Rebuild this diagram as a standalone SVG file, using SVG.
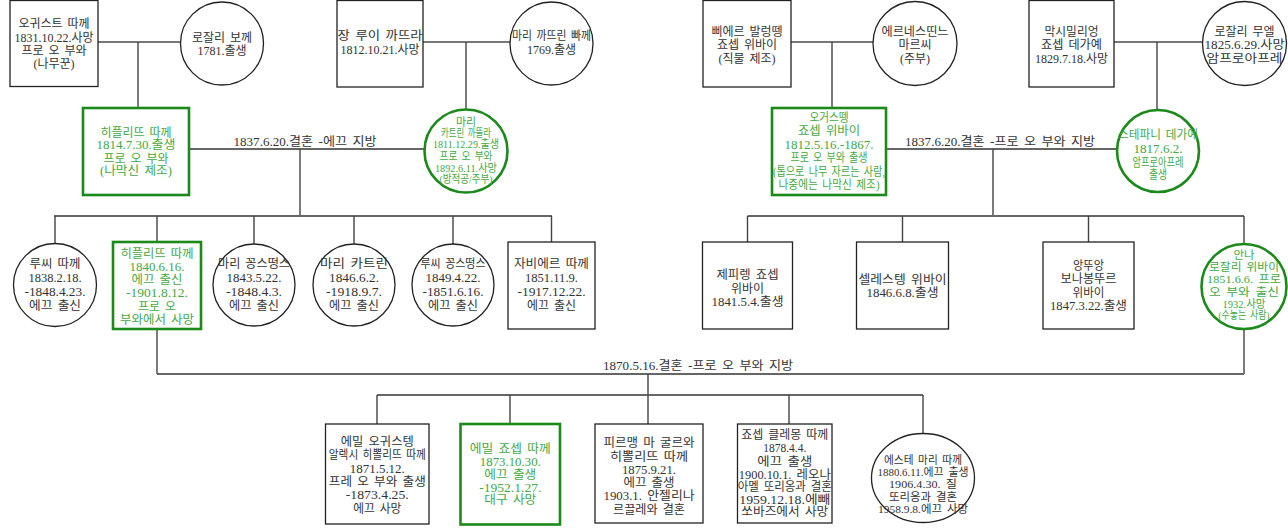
<svg xmlns="http://www.w3.org/2000/svg" width="1288" height="528" viewBox="0 0 1288 528">
<style>
.bg{fill:#fff}
.b{fill:#fff;stroke:#222;stroke-width:1.3}
.gb{fill:#fff;stroke:#1b8a1b;stroke-width:2.6}
.t{font-family:'Liberation Serif','Noto Sans CJK KR',sans-serif;font-size:12px;fill:#333;text-anchor:middle;word-spacing:2px}
.g{fill:#45a845}
.s{font-size:11px}
.c{stroke:#444;stroke-width:1.4;fill:none}
.sp{stroke:#777;stroke-width:2;fill:none}
.bar{stroke:#666;stroke-width:1.8;fill:none}
</style>
<rect class="bg" x="0" y="0" width="1288" height="528"/>
<g id="connectors">
<path class="sp" d="M98 42H180M423 42H510M791 42H873M1114 42H1202"/>
<path class="c" d="M138 42V108M466 42V109.5M832 42V108M1157 42V110"/>
<path class="bar" d="M189 149H424.5M886 149H1117"/>
<path class="c" d="M300 149V216M993 149V216"/>
<path class="bar" d="M54 216H552M747.5 216H1244"/>
<path class="c" d="M55 216V243M157 216V242M254 216V244M354 216V244M453 216V244M551.5 216V242M747.5 216V242M902.5 216V242M1088.5 216V242M1244 216V243.5"/>
<path class="c" d="M157 329V374M1244 329.5V374"/>
<path class="bar" d="M157 374H1244"/>
<path class="c" d="M648 374V395"/>
<path class="bar" d="M377 395H923"/>
<path class="c" d="M377 395V424M510 395V424M648 395V424M789 395V424M923 395V433.5"/>
<text class="t" x="305" y="146" textLength="143" lengthAdjust="spacingAndGlyphs">1837.6.20.결혼 -에끄 지방</text>
<text class="t" x="1000" y="146" textLength="190" lengthAdjust="spacingAndGlyphs">1837.6.20.결혼 -프로 오 부와 지방</text>
<text class="t" x="698" y="370" textLength="190" lengthAdjust="spacingAndGlyphs">1870.5.16.결혼 -프로 오 부와 지방</text>
</g>
<g id="n-auguste">
<rect class="b" x="10" y="0.5" width="88" height="86"/>
<text class="t" x="54" y="28.3">오귀스트 따께</text>
<text class="t" x="54" y="41.6">1831.10.22.사망</text>
<text class="t" x="54" y="55">프로 오 부와</text>
<text class="t" x="54" y="68.3">(나무꾼)</text>
</g>
<g id="n-rosalie-bocquet">
<circle class="b" cx="222" cy="43.5" r="41.5"/>
<text class="t" x="222" y="41.6">로잘리 보께</text>
<text class="t" x="222" y="55">1781.출생</text>
</g>
<g id="n-jean-louis">
<rect class="b" x="337" y="0.5" width="86" height="86.5"/>
<text class="t" x="380" y="39.6" textLength="85" lengthAdjust="spacingAndGlyphs">장 루이 까뜨라</text>
<text class="t" x="380" y="54.3">1812.10.21.사망</text>
</g>
<g id="n-marie-catherine-p">
<circle class="b" cx="551.5" cy="43.5" r="41.5"/>
<text class="t" x="551.5" y="39.6" textLength="79" lengthAdjust="spacingAndGlyphs">마리 까뜨린 빠께</text>
<text class="t" x="551.5" y="54.3">1769.출생</text>
</g>
<g id="n-pierre">
<rect class="b" x="703" y="0.5" width="88" height="86.5"/>
<text class="t" x="747" y="36">삐에르 발렁뗑</text>
<text class="t" x="747" y="49.3">죠셉 위바이</text>
<text class="t" x="747" y="62.6">(직물 제조)</text>
</g>
<g id="n-ernestine">
<circle class="b" cx="915" cy="43.5" r="42"/>
<text class="t" x="915" y="36" textLength="67" lengthAdjust="spacingAndGlyphs">에르네스띤느</text>
<text class="t" x="915" y="49.3">마르씨</text>
<text class="t" x="915" y="62.6">(주부)</text>
</g>
<g id="n-maximilien">
<rect class="b" x="1029" y="0.5" width="85" height="86.5"/>
<text class="t" x="1071.5" y="36" textLength="54" lengthAdjust="spacingAndGlyphs">막시밀리엉</text>
<text class="t" x="1071.5" y="49.3" textLength="61" lengthAdjust="spacingAndGlyphs">죠셉 데가예</text>
<text class="t" x="1071.5" y="62.6">1829.7.18.사망</text>
</g>
<g id="n-rosalie-muel">
<circle class="b" cx="1244.5" cy="43.5" r="42"/>
<text class="t" x="1244.5" y="36">로잘리 무엘</text>
<text class="t" x="1244.5" y="49.3" textLength="80" lengthAdjust="spacingAndGlyphs">1825.6.29.사망</text>
<text class="t" x="1244.5" y="62.6" textLength="76" lengthAdjust="spacingAndGlyphs">암프로아프레</text>
</g>
<g id="n-hippolyte">
<rect class="gb" x="83" y="108" width="106" height="87"/>
<text class="t g" x="136" y="136.6">히플리뜨 따께</text>
<text class="t g" x="136" y="149.3" textLength="79" lengthAdjust="spacingAndGlyphs">1814.7.30.출생</text>
<text class="t g" x="136" y="162.6">프로 오 부와</text>
<text class="t g" x="136" y="175.3" textLength="72" lengthAdjust="spacingAndGlyphs">(나막신 제조)</text>
</g>
<g id="n-marie-catherine-c">
<circle class="gb" cx="466" cy="151" r="41.5"/>
<text class="t g s" x="466" y="126.3">마리</text>
<text class="t g s" x="466" y="137" textLength="50" lengthAdjust="spacingAndGlyphs">카트린 까뜰라</text>
<text class="t g s" x="466" y="148.2" textLength="66" lengthAdjust="spacingAndGlyphs">1811.12.29.출생</text>
<text class="t g s" x="466" y="160.3" textLength="53" lengthAdjust="spacingAndGlyphs">프로 오 부와</text>
<text class="t g s" x="466" y="172" textLength="62" lengthAdjust="spacingAndGlyphs">1892.6.11.사망</text>
<text class="t g s" x="466" y="182.8" textLength="53" lengthAdjust="spacingAndGlyphs">(방적공/주부)</text>
</g>
<g id="n-augustin">
<rect class="gb" x="772" y="108" width="114" height="87"/>
<text class="t g" x="829" y="121.6" textLength="39" lengthAdjust="spacingAndGlyphs">오거스뗑</text>
<text class="t g" x="829" y="135.1" textLength="62" lengthAdjust="spacingAndGlyphs">죠셉 위바이</text>
<text class="t g" x="829" y="148.6" textLength="89" lengthAdjust="spacingAndGlyphs">1812.5.16.-1867.</text>
<text class="t g" x="829" y="162.1" textLength="77" lengthAdjust="spacingAndGlyphs">프로 오 부와 출생</text>
<text class="t g" x="829" y="175.6" textLength="112" lengthAdjust="spacingAndGlyphs">(톱으로 나무 자르는 사람,</text>
<text class="t g" x="829" y="189.1" textLength="101" lengthAdjust="spacingAndGlyphs">나중에는 나막신 제조)</text>
</g>
<g id="n-stephanie">
<circle class="gb" cx="1158" cy="151" r="41"/>
<text class="t g" x="1158" y="139" textLength="80" lengthAdjust="spacingAndGlyphs">스테파니 데가예</text>
<text class="t g" x="1158" y="153" textLength="49" lengthAdjust="spacingAndGlyphs">1817.6.2.</text>
<text class="t g" x="1158" y="166.5" textLength="51" lengthAdjust="spacingAndGlyphs">암프로아프레</text>
<text class="t g" x="1158" y="179" textLength="18" lengthAdjust="spacingAndGlyphs">출생</text>
</g>
<g id="n-lucie-t">
<circle class="b" cx="55" cy="285" r="41.5"/>
<text class="t" x="55" y="267.8" textLength="51" lengthAdjust="spacingAndGlyphs">루씨 따께</text>
<text class="t" x="55" y="281.7" textLength="53" lengthAdjust="spacingAndGlyphs">1838.2.18.</text>
<text class="t" x="55" y="295.6" textLength="61" lengthAdjust="spacingAndGlyphs">-1848.4.23.</text>
<text class="t" x="55" y="309.5" textLength="52" lengthAdjust="spacingAndGlyphs">에끄 출신</text>
</g>
<g id="n-hippolyte-jr">
<rect class="gb" x="113" y="242" width="88" height="87"/>
<text class="t g" x="157" y="257.6" textLength="73" lengthAdjust="spacingAndGlyphs">히플리뜨 따께</text>
<text class="t g" x="157" y="270.6" textLength="55" lengthAdjust="spacingAndGlyphs">1840.6.16.</text>
<text class="t g" x="157" y="284" textLength="51" lengthAdjust="spacingAndGlyphs">에끄 출신</text>
<text class="t g" x="157" y="297.2" textLength="62" lengthAdjust="spacingAndGlyphs">-1901.8.12.</text>
<text class="t g" x="157" y="310.5" textLength="38" lengthAdjust="spacingAndGlyphs">프로 오</text>
<text class="t g" x="157" y="323.6" textLength="74" lengthAdjust="spacingAndGlyphs">부와에서 사망</text>
</g>
<g id="n-marie-constance">
<circle class="b" cx="254" cy="285" r="41"/>
<text class="t" x="254" y="267.8" textLength="72" lengthAdjust="spacingAndGlyphs">마리 꽁스떵스</text>
<text class="t" x="254" y="281.7" textLength="55" lengthAdjust="spacingAndGlyphs">1843.5.22.</text>
<text class="t" x="254" y="295.6" textLength="56" lengthAdjust="spacingAndGlyphs">-1848.4.3.</text>
<text class="t" x="254" y="309.5" textLength="50" lengthAdjust="spacingAndGlyphs">에끄 출신</text>
</g>
<g id="n-marie-catherine-t">
<circle class="b" cx="354" cy="285" r="41"/>
<text class="t" x="354" y="267.8" textLength="68" lengthAdjust="spacingAndGlyphs">마리 카트린</text>
<text class="t" x="354" y="281.7" textLength="50" lengthAdjust="spacingAndGlyphs">1846.6.2.</text>
<text class="t" x="354" y="295.6" textLength="56" lengthAdjust="spacingAndGlyphs">-1918.9.7.</text>
<text class="t" x="354" y="309.5" textLength="50" lengthAdjust="spacingAndGlyphs">에끄 출신</text>
</g>
<g id="n-lucie-constance">
<circle class="b" cx="453" cy="285" r="41"/>
<text class="t" x="453" y="267.8" textLength="65" lengthAdjust="spacingAndGlyphs">루씨 꽁스떵스</text>
<text class="t" x="453" y="281.7" textLength="55" lengthAdjust="spacingAndGlyphs">1849.4.22.</text>
<text class="t" x="453" y="295.6" textLength="61" lengthAdjust="spacingAndGlyphs">-1851.6.16.</text>
<text class="t" x="453" y="309.5" textLength="50" lengthAdjust="spacingAndGlyphs">에끄 출신</text>
</g>
<g id="n-xavier">
<rect class="b" x="508" y="242" width="87" height="87"/>
<text class="t" x="551.5" y="267.8" textLength="75" lengthAdjust="spacingAndGlyphs">자비에르 따께</text>
<text class="t" x="551.5" y="281.7" textLength="53" lengthAdjust="spacingAndGlyphs">1851.11.9.</text>
<text class="t" x="551.5" y="295.6" textLength="68" lengthAdjust="spacingAndGlyphs">-1917.12.22.</text>
<text class="t" x="551.5" y="309.5" textLength="49" lengthAdjust="spacingAndGlyphs">에끄 출신</text>
</g>
<g id="n-zephirin">
<rect class="b" x="702.5" y="242" width="90" height="87"/>
<text class="t" x="747.5" y="278.6" textLength="62" lengthAdjust="spacingAndGlyphs">제피렝 죠셉</text>
<text class="t" x="747.5" y="292.6" textLength="33" lengthAdjust="spacingAndGlyphs">위바이</text>
<text class="t" x="747.5" y="305.6" textLength="72" lengthAdjust="spacingAndGlyphs">1841.5.4.출생</text>
</g>
<g id="n-celestin">
<rect class="b" x="856.5" y="242" width="92" height="87"/>
<text class="t" x="902.5" y="284.3" textLength="88" lengthAdjust="spacingAndGlyphs">셀레스텡 위바이</text>
<text class="t" x="902.5" y="297.3" textLength="72" lengthAdjust="spacingAndGlyphs">1846.6.8.출생</text>
</g>
<g id="n-antoine">
<rect class="b" x="1043" y="242" width="91" height="87"/>
<text class="t" x="1088.5" y="269.6" textLength="31" lengthAdjust="spacingAndGlyphs">앙뚜앙</text>
<text class="t" x="1088.5" y="283" textLength="56" lengthAdjust="spacingAndGlyphs">보나봉뚜르</text>
<text class="t" x="1088.5" y="297" textLength="32" lengthAdjust="spacingAndGlyphs">위바이</text>
<text class="t" x="1088.5" y="309.5" textLength="77" lengthAdjust="spacingAndGlyphs">1847.3.22.출생</text>
</g>
<g id="n-anna">
<circle class="gb" cx="1244" cy="286.5" r="42.5"/>
<text class="t g s" x="1244" y="258.8" textLength="21" lengthAdjust="spacingAndGlyphs">안나</text>
<text class="t g s" x="1244" y="270.8" textLength="70" lengthAdjust="spacingAndGlyphs">로잘리 위바이</text>
<text class="t g s" x="1244" y="283.3" textLength="74" lengthAdjust="spacingAndGlyphs">1851.6.6. 프로</text>
<text class="t g s" x="1244" y="295.7" textLength="70" lengthAdjust="spacingAndGlyphs">오 부와 출신</text>
<text class="t g s" x="1244" y="307.9" textLength="43" lengthAdjust="spacingAndGlyphs">1932.사망</text>
<text class="t g s" x="1244" y="319" textLength="51" lengthAdjust="spacingAndGlyphs">(수놓는 사람)</text>
</g>
<g id="n-emile-auguste">
<rect class="b" x="325.5" y="424" width="103.5" height="100"/>
<text class="t" x="377.3" y="446" textLength="73" lengthAdjust="spacingAndGlyphs">에밀 오귀스텡</text>
<text class="t" x="377.3" y="459.3" textLength="97" lengthAdjust="spacingAndGlyphs">알렉시 히뽈리뜨 따께</text>
<text class="t" x="377.3" y="472.6" textLength="55" lengthAdjust="spacingAndGlyphs">1871.5.12.</text>
<text class="t" x="377.3" y="486" textLength="97" lengthAdjust="spacingAndGlyphs">프레 오 부와 출생</text>
<text class="t" x="377.3" y="499.3" textLength="63" lengthAdjust="spacingAndGlyphs">-1873.4.25.</text>
<text class="t" x="377.3" y="512.6" textLength="48" lengthAdjust="spacingAndGlyphs">에끄 사망</text>
</g>
<g id="n-emile-joseph">
<rect class="gb" x="460.5" y="424" width="99.5" height="100.5"/>
<text class="t g" x="510.3" y="452.6" textLength="81" lengthAdjust="spacingAndGlyphs">에밀 죠셉 따께</text>
<text class="t g" x="510.3" y="466" textLength="61" lengthAdjust="spacingAndGlyphs">1873.10.30.</text>
<text class="t g" x="510.3" y="478.6" textLength="52" lengthAdjust="spacingAndGlyphs">에끄 출생</text>
<text class="t g" x="510.3" y="492" textLength="62" lengthAdjust="spacingAndGlyphs">-1952.1.27.</text>
<text class="t g" x="510.3" y="504.3" textLength="52" lengthAdjust="spacingAndGlyphs">대구 사망</text>
</g>
<g id="n-firmin">
<rect class="b" x="595" y="424" width="108" height="99"/>
<text class="t" x="649" y="447" textLength="91" lengthAdjust="spacingAndGlyphs">피르맹 마 굴르와</text>
<text class="t" x="649" y="461" textLength="78" lengthAdjust="spacingAndGlyphs">히뽈리뜨 따께</text>
<text class="t" x="649" y="474.3" textLength="54" lengthAdjust="spacingAndGlyphs">1875.9.21.</text>
<text class="t" x="649" y="487" textLength="51" lengthAdjust="spacingAndGlyphs">에끄 출생</text>
<text class="t" x="649" y="500.3" textLength="91" lengthAdjust="spacingAndGlyphs">1903.1. 안젤리나</text>
<text class="t" x="649" y="513.6" textLength="72" lengthAdjust="spacingAndGlyphs">르끌레와 결혼</text>
</g>
<g id="n-joseph-clement">
<rect class="b" x="737.5" y="424" width="94.5" height="99"/>
<text class="t" x="784.8" y="439.3" textLength="87" lengthAdjust="spacingAndGlyphs">죠셉 클레몽 따께</text>
<text class="t" x="784.8" y="452" textLength="43" lengthAdjust="spacingAndGlyphs">1878.4.4.</text>
<text class="t" x="784.8" y="466" textLength="55" lengthAdjust="spacingAndGlyphs">에끄 출생</text>
<text class="t" x="784.8" y="478.6" textLength="92" lengthAdjust="spacingAndGlyphs">1900.10.1. 레오나</text>
<text class="t" x="784.8" y="491" textLength="94" lengthAdjust="spacingAndGlyphs">아멜 또리옹과 결혼</text>
<text class="t" x="784.8" y="503.6" textLength="91" lengthAdjust="spacingAndGlyphs">1959.12.18.에빼</text>
<text class="t" x="784.8" y="516" textLength="87" lengthAdjust="spacingAndGlyphs">쏘바즈에서 사망</text>
</g>
<g id="n-esther">
<ellipse class="b" cx="923" cy="478" rx="51.5" ry="44.5"/>
<text class="t s" x="923" y="463.6" textLength="78" lengthAdjust="spacingAndGlyphs">에스테 마리 따께</text>
<text class="t s" x="923" y="475.9" textLength="91" lengthAdjust="spacingAndGlyphs">1880.6.11.에끄 출생</text>
<text class="t s" x="923" y="488.2" textLength="68" lengthAdjust="spacingAndGlyphs">1906.4.30. 질</text>
<text class="t s" x="923" y="500.5" textLength="68" lengthAdjust="spacingAndGlyphs">또리옹과 결혼</text>
<text class="t s" x="923" y="512.8" textLength="90" lengthAdjust="spacingAndGlyphs">1958.9.8.에끄 사망</text>
</g>
</svg>
